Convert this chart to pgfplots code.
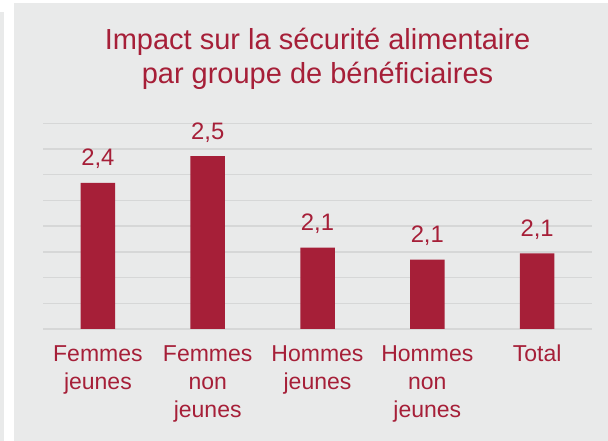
\documentclass[border=0pt]{standalone}
\usepackage{pgfplots}
\pgfplotsset{compat=1.18}
\usepackage{fontspec}
\setmainfont{Liberation Sans}
\definecolor{crim}{RGB}{166,31,56}
\definecolor{panel}{RGB}{233,234,234}
\definecolor{gridc}{RGB}{214,215,215}
\begin{document}
\begin{tikzpicture}[x=1pt,y=1pt]
\useasboundingbox (0,0) rectangle (608,441);
\fill[white] (0,0) rectangle (608,441);
\fill[panel] (0,0) rectangle (4.3,429);
\fill[panel] (14,0) rectangle (608,438);
\node[anchor=base,text=crim,font=\fontsize{29}{34}\selectfont,inner sep=0pt] at (317.5,391) {Impact sur la sécurité alimentaire};
\node[anchor=base,text=crim,font=\fontsize{29}{34}\selectfont,inner sep=0pt] at (317.5,357) {par groupe de bénéficiaires};
\begin{axis}[
  at={(43pt,112pt)}, anchor=south west,
  scale only axis, width=549pt, height=205.7pt,
  xmin=-0.5, xmax=4.5, ymin=1.8, ymax=2.6,
  ytick={1.8,1.9,2.0,2.1,2.2,2.3,2.4,2.5,2.6}, yticklabels={},
  ymajorgrids, grid style={gridc, line width=1.4pt},
  axis line style={draw=none}, major tick length=0pt,
  xtick=data,
  xticklabels={{Femmes\\jeunes},{Femmes\\non\\jeunes},{Hommes\\jeunes},{Hommes\\non\\jeunes},{Total}},
  xticklabel style={text=crim, font=\fontsize{23}{28}\selectfont, align=center, anchor=north, yshift=-16pt, inner sep=0pt},
  ybar, bar width=34.5pt,
  nodes near coords,
  nodes near coords style={text=crim, font=\fontsize{23.8}{28}\selectfont, anchor=base, yshift=17pt, inner sep=0pt,
    /pgf/number format/.cd, fixed, fixed zerofill, precision=1, use comma, assume math mode=true},
  clip=false,
]
\addplot[fill=crim, draw=none] coordinates {(0,2.368) (1,2.472) (2,2.116) (3,2.070) (4,2.094)};
\end{axis}
\end{tikzpicture}
\end{document}
